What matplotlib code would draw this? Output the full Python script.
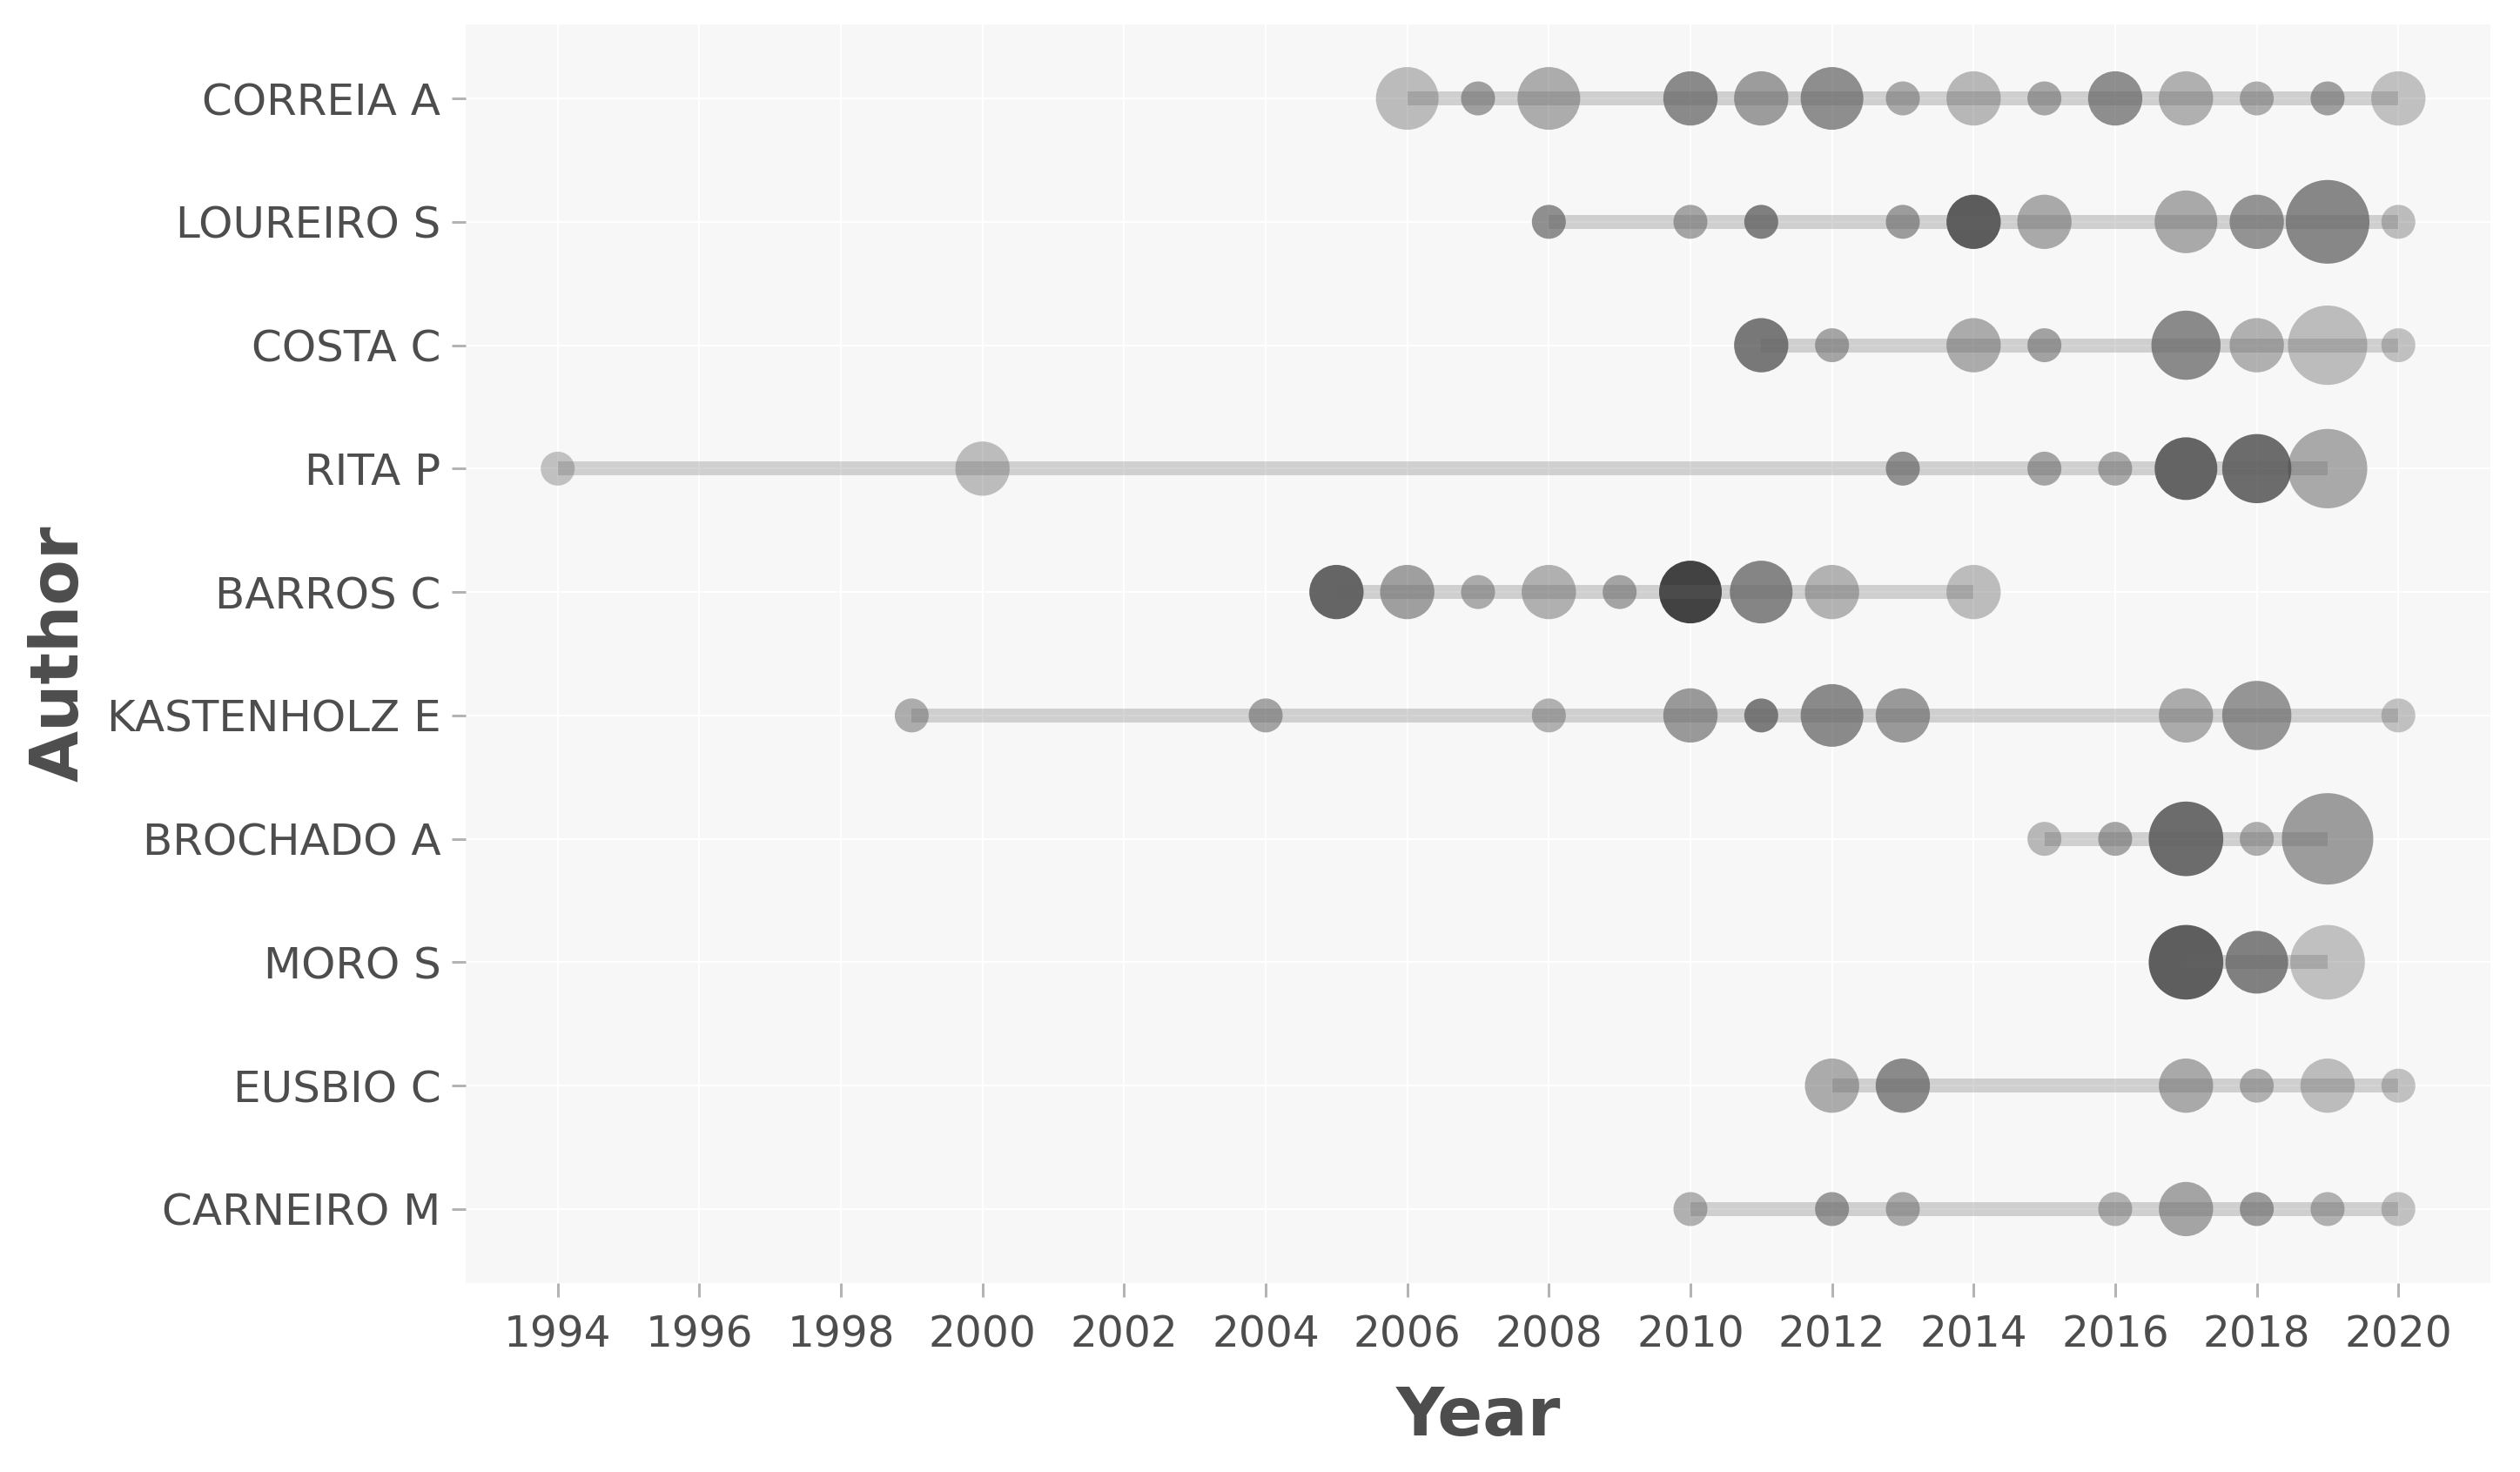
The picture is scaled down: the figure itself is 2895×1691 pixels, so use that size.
import numpy as np
import matplotlib
matplotlib.use("Agg")
import matplotlib.pyplot as plt

plt.rcParams['font.family'] = ['DejaVu Sans']

# ---- data (top to bottom) ----
authors = ["CORREIA A", "LOUREIRO S", "COSTA C", "RITA P", "BARROS C",
           "KASTENHOLZ E", "BROCHADO A", "MORO S", "EUSBIO C", "CARNEIRO M"]

correia_years = [2006, 2007, 2008, 2010, 2011, 2012, 2013, 2014, 2015, 2016, 2017, 2018, 2019, 2020]
correia_freq = [3, 1, 3, 2, 2, 3, 1, 2, 1, 2, 2, 1, 1, 2]
correia_tcpy = [0.4, 2.6, 1.6, 4.3, 2.9, 4.0, 1.9, 0.7, 2.1, 4.0, 1.3, 1.6, 2.6, 0.0]

loureiro_years = [2008, 2010, 2011, 2013, 2014, 2015, 2017, 2018, 2019, 2020]
loureiro_freq = [1, 1, 1, 1, 2, 2, 3, 2, 7, 1]
loureiro_tcpy = [3.9, 2.2, 5.2, 2.9, 7.9, 1.8, 1.8, 3.6, 4.5, 0.3]

costa_years = [2011, 2012, 2014, 2015, 2017, 2018, 2019, 2020]
costa_freq = [2, 1, 2, 1, 4, 2, 6, 1]
costa_tcpy = [5.7, 2.2, 1.7, 2.4, 4.3, 1.3, 0.3, 0.0]

rita_years = [1994, 2000, 2013, 2015, 2016, 2017, 2018, 2019]
rita_freq = [1, 2, 1, 1, 1, 3, 4, 6]
rita_tcpy = [0.0, 0.3, 3.8, 2.2, 1.9, 7.3, 6.7, 1.9]

barros_years = [2005, 2006, 2007, 2008, 2009, 2010, 2011, 2012, 2014]
barros_freq = [2, 2, 1, 2, 1, 3, 3, 2, 2]
barros_tcpy = [7.2, 2.6, 1.7, 1.3, 2.2, 10.0, 4.7, 1.1, 0.3]

kastenholz_years = [1999, 2004, 2008, 2010, 2011, 2012, 2013, 2017, 2018, 2020]
kastenholz_freq = [1, 1, 1, 2, 1, 3, 2, 2, 4, 1]
kastenholz_tcpy = [1.6, 2.3, 1.3, 3.1, 5.4, 4.3, 3.1, 1.7, 3.4, 0.0]

brochado_years = [2015, 2016, 2017, 2018, 2019]
brochado_freq = [1, 1, 5, 1, 9]
brochado_tcpy = [0.7, 2.2, 6.7, 1.6, 2.9]

moro_years = [2017, 2018, 2019]
moro_freq = [5, 3, 5]
moro_tcpy = [7.8, 5.1, 0.0]

eusbio_years = [2012, 2013, 2017, 2018, 2019, 2020]
eusbio_freq = [2, 2, 2, 1, 2, 1]
eusbio_tcpy = [1.7, 4.3, 1.9, 1.3, 0.3, 0.0]

carneiro_years = [2010, 2012, 2013, 2016, 2017, 2018, 2019, 2020]
carneiro_freq = [1, 1, 1, 1, 2, 1, 1, 1]
carneiro_tcpy = [1.3, 3.1, 1.9, 1.1, 2.2, 2.9, 1.3, 0.0]

year_ticks = list(range(1994, 2021, 2))

series = [
    (correia_years, correia_freq, correia_tcpy),
    (loureiro_years, loureiro_freq, loureiro_tcpy),
    (costa_years, costa_freq, costa_tcpy),
    (rita_years, rita_freq, rita_tcpy),
    (barros_years, barros_freq, barros_tcpy),
    (kastenholz_years, kastenholz_freq, kastenholz_tcpy),
    (brochado_years, brochado_freq, brochado_tcpy),
    (moro_years, moro_freq, moro_tcpy),
    (eusbio_years, eusbio_freq, eusbio_tcpy),
    (carneiro_years, carneiro_freq, carneiro_tcpy),
]

# ---- figure ----
W, H, DPI = 2895, 1691, 100
fig = plt.figure(figsize=(W / DPI, H / DPI), dpi=DPI, facecolor='white')
L, R, T, B = 535, 2861, 28, 1474
ax = fig.add_axes([L / W, 1 - B / H, (R - L) / W, (B - T) / H])
ax.set_facecolor('#f7f7f7')

px2pt = 72.0 / DPI
all_freq = [f for s in series for f in s[1]]
fmin, fmax = min(all_freq), max(all_freq)
all_t = [t for s in series for t in s[2]]
tmin, tmax = min(all_t), max(all_t)

def size_scale(f):
    f = np.asarray(f, dtype=float)
    sz = 2 + 4 * np.sqrt((f - fmin) / (fmax - fmin))   # ggplot-like area scale, range (2, 6)
    d_px = 16.5 * sz + 6
    return (d_px * px2pt) ** 2

def alpha_scale(t):
    t = np.asarray(t, dtype=float)
    return 0.3 + 0.7 * (t - tmin) / (tmax - tmin)

n = len(authors)
for i, (yrs, fr, tc) in enumerate(series):
    ypos = n - i
    alphas = alpha_scale(tc)
    cols = [(0x42 / 255, 0x42 / 255, 0x42 / 255, a) for a in alphas]
    ax.scatter(yrs, [ypos] * len(yrs), s=size_scale(fr), c=cols, linewidths=0, zorder=3)
    ax.plot([min(yrs), max(yrs)], [ypos, ypos], color='#646464', alpha=0.27,
            lw=16 * px2pt, solid_capstyle='butt', zorder=4)

ax.set_xlim(1992.7, 2021.3)
ax.set_ylim(0.4, n + 0.6)
ax.set_xticks(year_ticks)
ax.set_xticklabels([str(y) for y in year_ticks])
ax.set_yticks(range(n, 0, -1))
ax.set_yticklabels(authors)

ax.grid(True, color='white', lw=2.2 * px2pt, zorder=0)
ax.set_axisbelow(True)
for sp in ax.spines.values():
    sp.set_visible(False)

ax.tick_params(axis='both', colors='#b3b3b3', length=16 * px2pt, width=3 * px2pt,
               labelcolor='#4d4d4d', labelsize=35)
ax.tick_params(axis='y', labelsize=36, pad=9)
ax.tick_params(axis='x', pad=14)

ax.set_xlabel('Year', fontsize=55, fontweight='bold', color='#4d4d4d', labelpad=24)
ax.set_ylabel('Author', fontsize=55, fontweight='bold', color='#4d4d4d', labelpad=12)

fig.savefig('out.png', dpi=DPI, facecolor='white')
